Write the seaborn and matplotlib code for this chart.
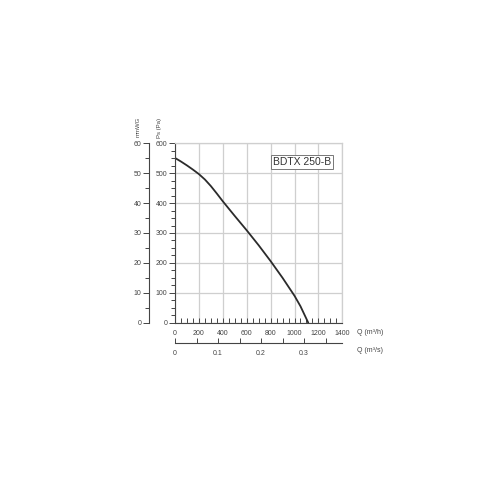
import matplotlib
matplotlib.use("Agg")
import matplotlib.pyplot as plt
import seaborn as sns
import pandas as pd
from matplotlib.ticker import MultipleLocator

# fan curve
q_m3h = [0, 50, 100, 150, 200, 250, 300, 350, 400, 500, 600, 700, 800,
         900, 1000, 1050, 1115]
ps_pa = [551, 539, 526, 512, 497, 479, 457, 432, 406, 357, 309, 259, 206,
         150, 90, 55, 0]
model_name = "BDTX 250-B"

q_ticks = [0, 200, 400, 600, 800, 1000, 1200, 1400]
pa_ticks = [0, 100, 200, 300, 400, 500, 600]
mmwg_ticks = [0, 10, 20, 30, 40, 50, 60]
qs_ticks = [0, 0.1, 0.2, 0.3]
qs_labels = ["0", "0.1", "0.2", "0.3"]

df = pd.DataFrame({"q": q_m3h, "ps": ps_pa})

sns.set_style("white")
plt.rcParams["font.family"] = ["Liberation Sans", "DejaVu Sans"]

dark = "#444444"
grid_c = "#cfcfcf"
fs = 5

fig = plt.figure(figsize=(5, 5), dpi=100)
ax = fig.add_axes([175 / 500, 1 - 322.7 / 500, 167.3 / 500, 179.4 / 500])

sns.lineplot(data=df, x="q", y="ps", ax=ax, color="#2b2b2b", lw=1.3,
             estimator=None, sort=True)

ax.set_xlim(0, 1400)
ax.set_ylim(0, 600)
ax.set_xticks(q_ticks)
ax.set_yticks(pa_ticks)
ax.xaxis.set_minor_locator(MultipleLocator(50))
ax.yaxis.set_minor_locator(MultipleLocator(25))
ax.grid(True, which="major", color=grid_c, lw=0.9)
ax.set_xlabel("")
ax.set_ylabel("")

for s in ["top", "right"]:
    ax.spines[s].set_color(grid_c)
    ax.spines[s].set_linewidth(0.9)
for s in ["left", "bottom"]:
    ax.spines[s].set_color(dark)
    ax.spines[s].set_linewidth(0.8)

ax.tick_params(axis="x", which="both", direction="in", color=dark, width=0.7,
               length=3.5, labelsize=fs, labelcolor=dark, pad=5, bottom=True)
ax.tick_params(axis="y", which="both", direction="out", color=dark, width=0.7,
               labelsize=fs, labelcolor=dark, pad=1.5, left=True)
ax.tick_params(axis="y", which="major", length=4)
ax.tick_params(axis="y", which="minor", length=3)

# mmWG axis on the far left (600 Pa drawn as 60 mmWG)
ax_mm = ax.secondary_yaxis(-0.155, functions=(lambda p: p / 10, lambda m: m * 10))
ax_mm.set_yticks(mmwg_ticks)
ax_mm.yaxis.set_minor_locator(MultipleLocator(5))
ax_mm.spines["left"].set_color(dark)
ax_mm.spines["left"].set_linewidth(0.8)
ax_mm.tick_params(axis="y", which="both", direction="out", color=dark, width=0.7,
                  labelsize=fs, labelcolor=dark, pad=1.5)
ax_mm.tick_params(axis="y", which="major", length=4)
ax_mm.tick_params(axis="y", which="minor", length=3)

# flow in m3/s below
ax_qs = ax.secondary_xaxis(-0.113, functions=(lambda q: q / 3600, lambda s: s * 3600))
ax_qs.set_xticks(qs_ticks)
ax_qs.set_xticklabels(qs_labels)
ax_qs.xaxis.set_minor_locator(MultipleLocator(0.05))
ax_qs.spines["bottom"].set_color(dark)
ax_qs.spines["bottom"].set_linewidth(0.8)
ax_qs.tick_params(axis="x", which="both", direction="in", color=dark, width=0.7,
                  length=3.5, labelsize=fs, labelcolor=dark, pad=5)

# axis titles
fig.text(138.5 / 500, 1 - 127 / 500, "mmWG", rotation=90, fontsize=4.3,
         color=dark, ha="center", va="center")
fig.text(159 / 500, 1 - 128 / 500, "Ps (Pa)", rotation=90, fontsize=4.3,
         color=dark, ha="center", va="center")
fig.text(357 / 500, 1 - 332.7 / 500, "Q (m³/h)", fontsize=fs, color=dark,
         ha="left", va="center")
fig.text(357 / 500, 1 - 350.5 / 500, "Q (m³/s)", fontsize=fs, color=dark,
         ha="left", va="center")

ax.text(1065, 537, model_name, fontsize=7.5, color="#333333", ha="center",
        va="center", bbox=dict(boxstyle="square,pad=0.2", fc="white",
                               ec="#777777", lw=0.7))

fig.savefig("out.png", dpi=100, facecolor="white")
